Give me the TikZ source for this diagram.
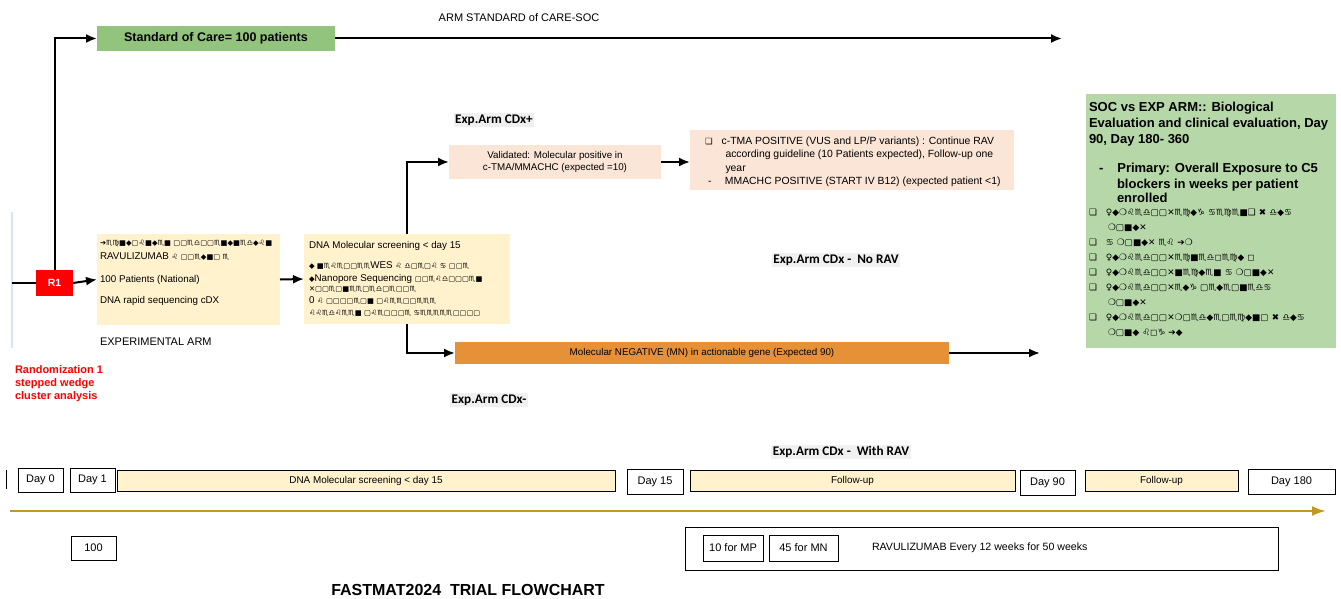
\documentclass[tikz,border=0pt]{standalone}
\usepackage{fontspec}
\setmainfont{Liberation Sans}
\newfontfamily\calfont{Carlito}
\newfontfamily\gbfont{DejaVu Sans}
\usetikzlibrary{arrows.meta}
\definecolor{socgreen}{RGB}{147,196,125}
\definecolor{beige}{RGB}{255,242,204}
\definecolor{peach}{RGB}{251,229,214}
\definecolor{orangebar}{RGB}{230,145,56}
\definecolor{evalgreen}{RGB}{182,215,168}
\definecolor{goldline}{RGB}{196,154,30}
\definecolor{labelgray}{RGB}{240,240,240}
\definecolor{paleblue}{RGB}{214,228,246}
\newcommand\gbt[1]{{\gbfont #1}}
\begin{document}
\begin{tikzpicture}[x=1pt,y=-1pt,
  every node/.style={inner sep=0pt, outer sep=0pt},
  small/.style={font=\fontsize{9.8}{12.5}\selectfont},
  tlbox/.style={draw=black, line width=0.9pt, fill=white, font=\fontsize{11}{13}\selectfont},
  tlbar/.style={draw=black, line width=0.9pt, fill=beige, font=\fontsize{9.9}{12}\selectfont},
  flow/.style={draw=black, line width=2pt, -{Latex[length=11pt,width=9pt]}},
  plainline/.style={draw=black, line width=2pt},
  armlabel/.style={fill=labelgray, inner sep=1.5pt, font=\calfont\bfseries\fontsize{13.2}{15}\selectfont}
]
\useasboundingbox (0,0) rectangle (1341,599);

% ---- standard arm
\node[fill=socgreen, minimum width=238, minimum height=25, font=\bfseries\fontsize{12.5}{14}\selectfont] (soc) at (216,38.5) {Standard of Care= 100 patients};
\node[font=\fontsize{11}{13}\selectfont] (socarm) at (519,18) {ARM STANDARD of CARE-SOC};
\coordinate (socend) at (1062,38.5);

% ---- R1 and experimental arm
\draw[paleblue, line width=1.2pt] (12,212) coordinate (pb1) -- (12,348) coordinate (pb2);
\coordinate (start) at (12,283);
\node[fill=red, minimum width=37, minimum height=26, text=white, font=\bfseries\fontsize{10.5}{12}\selectfont] (r1) at (54.5,283) {R1};
\node[fill=beige, minimum width=183, minimum height=91] (expbox) at (188.5,279.5) {};
\node[small, anchor=north west, align=left] (exptext) at (100,240) {%
\gbt{\fontsize{7.3}{12}\selectfont ➔♏♍■◆▢♌■◆♏■ ▢▢♏♎▢▢♏■◆■♏♎◆♌■}\\[1.5pt]
RAVULIZUMAB \gbt{\fontsize{7.3}{12}\selectfont ♌ ▢▢♏◆■▢ ♏}\\[11pt]
100 Patients (National)\\[8.5pt]
DNA rapid sequencing cDX};
\node[font=\fontsize{11}{13}\selectfont, anchor=west] (explabel) at (100,342) {EXPERIMENTAL ARM};
\node[text=red, anchor=north west, align=left, font=\bfseries\fontsize{11}{13}\selectfont] (random) at (15,366) {Randomization 1\\stepped wedge\\cluster analysis};

% ---- DNA screening
\node[fill=beige, minimum width=206, minimum height=90] (dnabox) at (407,279) {};
\node[small, anchor=north west, align=left] (dnatext) at (309,241) {%
DNA Molecular screening < day 15\\[8pt]
\gbt{\fontsize{7.3}{12}\selectfont ◆ ■♏♌♏▢▢♏♏}WES \gbt{\fontsize{7.3}{12}\selectfont ♌ ♎▢♏▢♌ ♋ ▢▢♏}\\[0pt]
\gbt{\fontsize{7.3}{12}\selectfont ◆}Nanopore Sequencing \gbt{\fontsize{7.3}{12}\selectfont ▢▢♏♌♎▢▢▢♏■}\\[-2pt]
\gbt{\fontsize{7.3}{12}\selectfont ✕▢▢♏▢■♏♏▢♏♎▢♏▢▢♏}\\[-1pt]
0 \gbt{\fontsize{7.3}{12}\selectfont ♌ ▢▢▢▢♏▢■ ▢♌♏♏▢▢♏♏♏}\\[0pt]
\gbt{\fontsize{7.3}{12}\selectfont ♌♌♏♎♌♏♏■ ▢♌♏▢▢▢♏ ♋♏♏♏♏♏▢▢▢▢}};

% ---- positive branch
\node[armlabel] (cdxplus) at (494,120) {Exp.Arm CDx+};
\node[fill=peach, minimum width=212, minimum height=34, small, align=center] (valbox) at (555,162) {Validated: Molecular positive in\\c-TMA/MMACHC (expected =10)};
\node[fill=peach, minimum width=324, minimum height=60, anchor=north west] (posbox) at (690,130) {};
\node[anchor=north west, align=left, font=\fontsize{10.4}{13.3}\selectfont] (postext) at (705,137) {%
\gbt{\fontsize{8.5}{10}\selectfont ❏}\hspace*{9pt}c-TMA POSITIVE (VUS and LP/P variants) : Continue RAV\\
\hspace*{20.5pt}according guideline (10 Patients expected), Follow-up one\\
\hspace*{20.5pt}year\\
\hspace*{3pt}-\hspace*{13.5pt}MMACHC POSITIVE (START IV B12) (expected patient <1)};

% ---- negative branch
\node[fill=orangebar, minimum width=494, minimum height=22, small] (mnbox) at (702,353) {Molecular NEGATIVE (MN) in actionable gene (Expected 90)};
\coordinate (mnend) at (1040,353);
\node[armlabel] (norav) at (836,260) {Exp.Arm CDx -\ \ No RAV};
\node[armlabel] (cdxminus) at (489,400) {Exp.Arm CDx-};
\node[armlabel] (withrav) at (841,452) {Exp.Arm CDx -\ \ With RAV};

% ---- evaluation box
\node[fill=evalgreen, minimum width=250, minimum height=254, anchor=north west] (evalbox) at (1086,94) {};
\node[anchor=north west, align=left, font=\bfseries\fontsize{13}{16}\selectfont] (evaltext) at (1089,102) {%
SOC vs EXP ARM:: Biological\\
Evaluation and clinical evaluation, Day\\
90, Day 180- 360\\[13pt]
\hspace*{10pt}-\hspace*{14pt}Primary: Overall Exposure to C5\\
\hspace*{28pt}blockers in weeks per patient\\[-1.5pt]
\hspace*{28pt}enrolled\\[-3pt]
\gbt{\fontsize{8.8}{15}\selectfont ❏\hspace*{9pt}♀◆❍♌♏♎▢▢✕♏♍◆♑ ♋♏♍♏■❑ ✖ ♎◆♋}\\[-1pt]
\gbt{\fontsize{8.8}{15}\selectfont \hspace*{19pt}❍▢■◆✕}\\[-1pt]
\gbt{\fontsize{8.8}{15}\selectfont ❏\hspace*{9pt}♋ ❍▢■◆✕ ♏♌ ➔❍}\\[-1pt]
\gbt{\fontsize{8.8}{15}\selectfont ❏\hspace*{9pt}♀◆❍♌♏♎▢▢✕♏♍■♏♎◻♏♍◆ ◻}\\[-1pt]
\gbt{\fontsize{8.8}{15}\selectfont ❏\hspace*{9pt}♀◆❍♌♏♎▢▢✕■♏♍◆♏■ ♋ ❍▢■◆✕}\\[-1pt]
\gbt{\fontsize{8.8}{15}\selectfont ❏\hspace*{9pt}♀◆❍♌♏♎▢▢✕♏◆♑ ▢♏◆♏▢■♏♎♋}\\[-1pt]
\gbt{\fontsize{8.8}{15}\selectfont \hspace*{19pt}❍▢■◆✕}\\[-1pt]
\gbt{\fontsize{8.8}{15}\selectfont ❏\hspace*{9pt}♀◆❍♌♏♎▢▢✕❍▢♏♎◆♏▢♏♍◆■▢ ✖ ♎◆♋}\\[-1pt]
\gbt{\fontsize{8.8}{15}\selectfont \hspace*{19pt}❍▢■◆ ♌◻♑ ➔◆}};

% ---- connectors
\draw[plainline] (start) -- (r1.west);
\draw[flow] (r1.east) -- (expbox.west);
\draw[flow] (r1.north) |- (soc.west);
\draw[flow] (soc.east) -- (socend);
\draw[flow] (expbox.east) -- (dnabox.west);
\draw[flow] (dnabox.north) |- (valbox.west);
\draw[flow] (valbox.east) -- (valbox.east -| posbox.west);
\draw[flow] (dnabox.south) |- (mnbox.west);
\draw[flow] (mnbox.east) -- (mnend);

% ---- timeline
\draw[black, line width=0.9pt] (6,470) coordinate (tk1) -- (6,489) coordinate (tk2);
\node[tlbox, minimum width=45, minimum height=24] (day0) at (40.5,480) {Day 0};
\node[tlbox, minimum width=45, minimum height=24] (day1) at (92.5,480) {Day 1};
\node[tlbar, minimum width=498, minimum height=21] (dnabar) at (366,480.5) {DNA Molecular screening < day 15};
\node[tlbox, minimum width=56, minimum height=25] (day15) at (655,481.5) {Day 15};
\node[tlbar, minimum width=325, minimum height=21] (fu1) at (852.5,480.5) {Follow-up};
\node[tlbox, minimum width=55, minimum height=25] (day90) at (1047.5,482.5) {Day 90};
\node[tlbar, minimum width=153, minimum height=21] (fu2) at (1161.5,480.5) {Follow-up};
\node[tlbox, minimum width=87, minimum height=25] (day180) at (1291.5,481.5) {Day 180};

\coordinate (tl0) at (10,511);
\coordinate (tl1) at (1326,511);
\draw[goldline, line width=2.4pt, -{Latex[length=14pt,width=10pt]}] (tl0) -- (tl1);

\node[tlbox, minimum width=45, minimum height=24] (n100) at (93.5,548) {100};
\node[tlbox, minimum width=593, minimum height=43] (ravbox) at (981.5,548.5) {};
\node[tlbox, minimum width=60, minimum height=26] (mp) at (733,548) {10 for MP};
\node[tlbox, minimum width=69, minimum height=26] (mn) at (803.5,548) {45 for MN};
\node[font=\fontsize{10.6}{12}\selectfont, anchor=west] (ravtext) at (872,548) {RAVULIZUMAB Every 12 weeks for 50 weeks};

\node[font=\bfseries\fontsize{16}{18}\selectfont] (title) at (468,590) {FASTMAT2024\ \ TRIAL FLOWCHART};
\end{tikzpicture}
\end{document}
